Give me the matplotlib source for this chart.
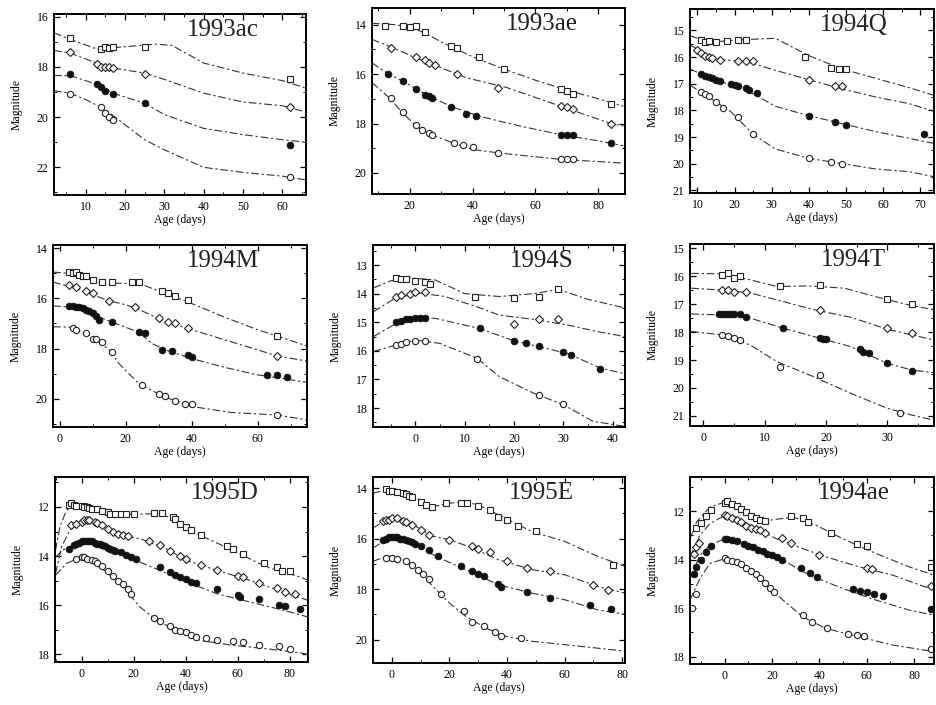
import matplotlib
matplotlib.use("Agg")
import matplotlib.pyplot as plt
from matplotlib.ticker import AutoMinorLocator

plt.rcParams["font.family"] = ["Liberation Serif", "DejaVu Serif"]

# ---------------- 1993ac ----------------
sn93ac_fit_sq = [(2, 16.65), (6, 16.9), (13, 17.3), (20, 17.2), (28, 17.1), (32, 17.15), (40, 17.85), (50, 18.25), (60, 18.55), (66, 18.85)]
sn93ac_fit_di = [(2, 17.35), (6, 17.45), (12, 17.8), (17, 18.05), (25, 18.25), (30, 18.5), (40, 19.05), (50, 19.4), (60, 19.55), (66, 19.8)]
sn93ac_fit_fc = [(2, 18.35), (6, 18.35), (13, 18.7), (17, 19.05), (25, 19.45), (30, 19.9), (40, 20.45), (50, 20.7), (60, 20.9), (66, 21.0)]
sn93ac_fit_oc = [(2, 18.95), (6, 19.05), (10, 19.3), (15, 19.7), (20, 20.3), (25, 20.9), (30, 21.3), (40, 22.0), (50, 22.2), (60, 22.35), (66, 22.5)]
sn93ac_pts_sq = [(6, 16.85), (14, 17.3), (15, 17.2), (16, 17.25), (17, 17.2), (25, 17.2), (62, 18.5)]
sn93ac_pts_di = [(6, 17.4), (13, 17.9), (14, 18.0), (15, 18.0), (16, 18.0), (17, 18.05), (25, 18.3), (62, 19.6)]
sn93ac_pts_fc = [(6, 18.3), (13, 18.7), (14, 18.8), (15, 18.95), (17, 19.1), (25, 19.45), (62, 21.1)]
sn93ac_pts_oc = [(6, 19.1), (14, 19.6), (15, 19.85), (16, 20.0), (17, 20.1), (62, 22.4)]

# ---------------- 1993ae ----------------
sn93ae_fit_sq = [(8, 13.95), (15, 14.0), (20, 14.1), (25, 14.35), (30, 14.7), (35, 15.0), (40, 15.3), (50, 15.8), (60, 16.25), (70, 16.65), (80, 17.0), (88, 17.3)]
sn93ae_fit_di = [(8, 14.6), (15, 14.95), (21, 15.3), (27, 15.6), (38, 16.15), (51, 16.55), (68, 17.3), (84, 18.0), (88, 18.1)]
sn93ae_fit_fc = [(8, 15.55), (13, 15.98), (18, 16.3), (22, 16.6), (27, 16.95), (34, 17.35), (42, 17.7), (55, 18.1), (68, 18.45), (80, 18.7), (88, 18.9)]
sn93ae_fit_oc = [(8, 16.35), (13, 16.9), (18, 17.6), (22, 18.1), (26, 18.4), (34, 18.8), (40, 19.05), (49, 19.2), (68, 19.45), (88, 19.6)]
sn93ae_pts_sq = [(12, 14.05), (18, 14.05), (20, 14.1), (22, 14.05), (25, 14.3), (33, 14.85), (35, 14.95), (42, 15.3), (50, 15.8), (68, 16.6), (70, 16.7), (72, 16.8), (84, 17.2)]
sn93ae_pts_di = [(14, 14.95), (22, 15.3), (25, 15.45), (26, 15.55), (28, 15.65), (35, 16.0), (48, 16.55), (68, 17.3), (70, 17.35), (72, 17.4), (84, 18.0)]
sn93ae_pts_fc = [(13, 16.0), (18, 16.3), (22, 16.6), (25, 16.85), (26, 16.9), (27, 16.95), (33, 17.35), (38, 17.6), (41, 17.7), (68, 18.45), (70, 18.45), (72, 18.45), (84, 18.8)]
sn93ae_pts_oc = [(14, 16.95), (18, 17.55), (22, 18.05), (24, 18.25), (26, 18.4), (27, 18.45), (34, 18.8), (37, 18.85), (40, 18.95), (48, 19.2), (68, 19.45), (70, 19.45), (72, 19.45)]

# ---------------- 1994Q ----------------
sn94Q_fit_sq = [(8, 15.2), (13, 15.45), (22, 15.35), (31, 15.3), (40, 15.95), (49, 16.45), (58, 16.8), (67, 17.15), (74, 17.45)]
sn94Q_fit_di = [(8, 15.55), (13, 15.95), (17, 16.1), (24, 16.2), (31, 16.5), (40, 16.85), (49, 17.2), (58, 17.5), (67, 17.75), (74, 18.05)]
sn94Q_fit_fc = [(8, 16.45), (12, 16.7), (17, 16.95), (24, 17.3), (31, 17.85), (40, 18.2), (49, 18.5), (58, 18.8), (67, 19.05), (74, 19.25)]
sn94Q_fit_oc = [(8, 17.05), (13, 17.5), (19, 18.05), (25, 18.9), (31, 19.45), (40, 19.8), (49, 20.0), (58, 20.2), (67, 20.3), (74, 20.5)]
sn94Q_pts_sq = [(11, 15.35), (12, 15.45), (13, 15.4), (15, 15.45), (18, 15.4), (21, 15.35), (23, 15.35), (39, 16.0), (46, 16.4), (48, 16.45), (50, 16.45)]
sn94Q_pts_di = [(10, 15.75), (11, 15.85), (12, 15.95), (13, 16.0), (14, 16.05), (16, 16.1), (21, 16.15), (23, 16.15), (25, 16.15), (40, 16.85), (47, 17.1), (49, 17.1)]
sn94Q_pts_fc = [(11, 16.65), (12, 16.7), (13, 16.75), (14, 16.8), (15, 16.85), (16, 16.9), (19, 17.0), (20, 17.05), (21, 17.1), (23, 17.15), (24, 17.25), (26, 17.35), (40, 18.2), (47, 18.45), (50, 18.55), (71, 18.9)]
sn94Q_pts_oc = [(11, 17.3), (12, 17.4), (13, 17.45), (15, 17.7), (17, 17.9), (21, 18.25), (25, 18.9), (40, 19.8), (46, 19.95), (49, 20.0)]

# ---------------- 1994M ----------------
sn94M_fit_sq = [(-2, 14.95), (3, 15.0), (8, 15.2), (12, 15.35), (18, 15.4), (24, 15.4), (30, 15.7), (40, 16.2), (50, 16.75), (60, 17.25), (66, 17.5), (75, 17.9)]
sn94M_fit_di = [(-2, 15.35), (5, 15.6), (10, 15.85), (15, 16.1), (20, 16.25), (25, 16.5), (30, 16.8), (40, 17.25), (50, 17.65), (60, 18.05), (66, 18.3), (75, 18.5)]
sn94M_fit_fc = [(-2, 16.3), (4, 16.35), (8, 16.45), (12, 16.75), (16, 16.95), (20, 17.15), (24, 17.35), (28, 17.8), (32, 18.05), (40, 18.4), (50, 18.75), (60, 19.05), (68, 19.2), (75, 19.35)]
sn94M_fit_oc = [(-2, 17.13), (4, 17.15), (10, 17.55), (15, 18.05), (18, 18.6), (24, 19.4), (32, 19.95), (42, 20.35), (52, 20.55), (66, 20.65), (75, 20.85)]
sn94M_pts_sq = [(3, 14.95), (4, 15.0), (5, 14.95), (6, 15.05), (7, 15.1), (8, 15.1), (10, 15.25), (13, 15.35), (16, 15.35), (22, 15.35), (24, 15.35), (31, 15.7), (33, 15.8), (35, 15.9), (39, 16.05), (66, 17.5)]
sn94M_pts_di = [(3, 15.45), (5, 15.55), (8, 15.7), (10, 15.8), (15, 16.1), (23, 16.35), (30, 16.8), (33, 16.95), (35, 17.0), (39, 17.2), (66, 18.3)]
sn94M_pts_fc = [(3, 16.3), (4, 16.3), (5, 16.35), (6, 16.35), (7, 16.4), (8, 16.45), (9, 16.5), (10, 16.6), (11, 16.7), (12, 16.85), (16, 16.95), (24, 17.35), (26, 17.4), (31, 18.05), (34, 18.1), (39, 18.25), (40, 18.35), (63, 19.05), (66, 19.05), (69, 19.15)]
sn94M_pts_oc = [(4, 17.2), (5, 17.25), (8, 17.4), (10, 17.6), (11, 17.6), (13, 17.75), (16, 18.15), (25, 19.45), (30, 19.8), (32, 19.9), (35, 20.1), (38, 20.2), (40, 20.2), (66, 20.65)]

# ---------------- 1994S ----------------
sn94S_fit_sq = [(-8.5, 13.8), (-5, 13.55), (-1, 13.45), (4, 13.52), (10, 14.0), (17, 14.1), (24, 14.0), (29, 13.85), (35, 14.2), (42.5, 14.5)]
sn94S_fit_di = [(-8.5, 14.63), (-4, 14.15), (1, 13.98), (6, 14.1), (12, 14.43), (17, 14.75), (24, 14.9), (31, 15.1), (37, 15.33), (42.5, 15.5)]
sn94S_fit_fc = [(-8.5, 15.5), (-4, 15.05), (0, 14.86), (4, 14.86), (13, 15.22), (20, 15.65), (25, 15.85), (31, 16.1), (37.5, 16.6), (42.5, 16.8)]
sn94S_fit_oc = [(-8.5, 16.02), (-4, 15.8), (0, 15.62), (5, 15.74), (12.5, 16.26), (17, 16.9), (24, 17.48), (30, 17.88), (36, 18.46), (42.5, 18.64)]
sn94S_pts_sq = [(-4, 13.45), (-3, 13.5), (-2, 13.5), (0, 13.55), (2, 13.6), (3, 13.65), (12, 14.1), (20, 14.15), (25, 14.1), (29, 13.85)]
sn94S_pts_di = [(-4, 14.1), (-3, 14.05), (-1, 14.0), (0, 13.95), (2, 13.95), (20, 15.05), (25, 14.9), (29, 14.9)]
sn94S_pts_fc = [(-4, 15.0), (-3, 14.95), (-2, 14.9), (-1, 14.9), (0, 14.85), (1, 14.85), (2, 14.85), (13, 15.2), (20, 15.67), (22.5, 15.72), (25, 15.84), (30, 16.05), (31.5, 16.16), (37.5, 16.62)]
sn94S_pts_oc = [(-4, 15.8), (-3, 15.75), (-2, 15.7), (0, 15.65), (2, 15.65), (12.5, 16.3), (25, 17.55), (30, 17.85)]

# ---------------- 1994T ----------------
sn94T_fit_sq = [(-2, 15.9), (3, 15.92), (7.6, 16.13), (12, 16.37), (17, 16.35), (23, 16.43), (28, 16.73), (33.5, 17.03), (37.5, 17.2)]
sn94T_fit_di = [(-2, 16.43), (3, 16.5), (7.6, 16.6), (12, 16.85), (18, 17.2), (24, 17.47), (30, 17.9), (34, 18.1), (37.5, 18.28)]
sn94T_fit_fc = [(-2, 17.35), (3, 17.39), (7.6, 17.5), (13, 17.86), (18, 18.16), (24, 18.52), (30, 19.12), (34, 19.36), (37.5, 19.45)]
sn94T_fit_oc = [(-2, 17.98), (3, 18.1), (7.6, 18.46), (12, 19.06), (18, 19.6), (24, 20.19), (30, 20.73), (34, 20.97), (37.5, 21.15)]
sn94T_pts_sq = [(3, 15.95), (4, 15.9), (5, 16.05), (6, 16.0), (12.5, 16.35), (19, 16.3), (30, 16.8), (34, 17.0)]
sn94T_pts_di = [(3, 16.5), (4, 16.5), (5, 16.55), (7, 16.55), (19, 17.2), (30, 17.85), (34, 18.05)]
sn94T_pts_fc = [(2.5, 17.35), (3, 17.35), (3.5, 17.35), (4, 17.35), (4.5, 17.35), (5, 17.35), (6, 17.35), (7, 17.45), (13, 17.85), (19, 18.2), (19.5, 18.25), (20, 18.25), (25.5, 18.6), (26, 18.7), (27, 18.75), (30, 19.1), (34, 19.4)]
sn94T_pts_oc = [(3, 18.1), (4, 18.15), (5, 18.2), (6, 18.3), (12.5, 19.25), (19, 19.55), (32, 20.9)]

# ---------------- 1995D ----------------
sn95D_fit_sq = [(-10, 13.76), (-8.3, 12.8), (-5.8, 12.14), (-1.9, 11.86), (1.9, 11.86), (7, 12.07), (12, 12.27), (20, 12.3), (30, 12.27), (36.5, 12.54), (45.5, 13.15), (58, 13.76), (71, 14.44), (84, 14.85), (87, 14.98)]
sn95D_fit_di = [(-10, 14.71), (-7.7, 13.63), (-4.5, 12.95), (-0.6, 12.61), (3.2, 12.54), (8.3, 12.81), (14.7, 13.15), (22.4, 13.29), (32.6, 13.7), (40.3, 14.17), (52, 14.58), (64.7, 14.99), (77.5, 15.46), (87, 15.8)]
sn95D_fit_fc = [(-10, 14.04), (-7, 13.74), (-0.6, 13.42), (3.2, 13.38), (9.6, 13.56), (16, 13.9), (22.4, 14.24), (30, 14.58), (40.3, 15.05), (52, 15.53), (64.7, 15.87), (77.5, 16.2), (87, 16.48)]
sn95D_fit_oc = [(-10, 14.78), (-5.8, 14.3), (-0.6, 14.06), (3.2, 14.17), (9.6, 14.65), (16, 15.26), (22.4, 16.07), (28.8, 16.61), (36.5, 17.02), (45.5, 17.43), (58, 17.63), (71, 17.77), (84, 17.94), (87, 18.0)]
sn95D_pts_sq = [(-5, 11.9), (-4, 11.85), (-3, 11.9), (-2, 11.95), (0, 11.95), (1, 12.0), (2, 12.0), (3, 12.05), (4, 12.1), (6, 12.1), (8, 12.15), (10, 12.2), (11, 12.3), (13, 12.3), (15, 12.3), (17, 12.3), (20, 12.3), (28, 12.25), (31, 12.25), (35, 12.4), (36, 12.5), (38, 12.7), (40, 12.8), (42, 12.95), (46, 13.15), (56, 13.6), (58, 13.7), (62, 13.9), (70, 14.3), (75, 14.45), (77, 14.6), (80, 14.6)]
sn95D_pts_di = [(-4, 12.75), (-2, 12.7), (0, 12.6), (1, 12.55), (2, 12.55), (3, 12.55), (5, 12.6), (6, 12.65), (8, 12.75), (10, 12.9), (12, 13.0), (14, 13.1), (16, 13.15), (18, 13.2), (26, 13.4), (30, 13.55), (34, 13.8), (38, 14.0), (40, 14.1), (46, 14.35), (52, 14.55), (60, 14.8), (62, 14.85), (68, 15.1), (75, 15.3), (78, 15.45), (82, 15.55)]
sn95D_pts_fc = [(-5, 13.7), (-3, 13.55), (-2, 13.5), (-1, 13.45), (0, 13.4), (1, 13.4), (2, 13.4), (3, 13.4), (4, 13.4), (5, 13.45), (6, 13.5), (7, 13.5), (8, 13.55), (9, 13.6), (10, 13.65), (11, 13.7), (12, 13.75), (13, 13.8), (15, 13.85), (17, 13.95), (19, 14.05), (21, 14.1), (30, 14.45), (34, 14.65), (36, 14.75), (38, 14.85), (40, 14.95), (42, 15.05), (44, 15.1), (52, 15.35), (60, 15.6), (61, 15.65), (68, 15.75), (76, 16.0), (78, 16.05), (84, 16.15)]
sn95D_pts_oc = [(-2, 14.1), (0, 14.05), (1, 14.05), (2, 14.1), (4, 14.15), (5, 14.2), (6, 14.3), (8, 14.4), (10, 14.6), (12, 14.8), (14, 15.0), (16, 15.15), (18, 15.35), (19, 15.55), (28, 16.5), (30, 16.65), (34, 16.85), (36, 17.0), (38, 17.05), (40, 17.1), (42, 17.2), (44, 17.3), (48, 17.35), (52, 17.4), (58, 17.45), (62, 17.5), (68, 17.6), (76, 17.65), (80, 17.8)]

# ---------------- 1995E ----------------
sn95E_fit_sq = [(-6.5, 14.2), (-1.7, 14.07), (2.9, 14.13), (8.6, 14.4), (14.3, 14.73), (20, 14.6), (25.7, 14.53), (31.4, 14.73), (37.1, 15.06), (48.6, 15.72), (60, 16.11), (71.4, 16.7), (81, 17.1)]
sn95E_fit_di = [(-6.5, 15.58), (-1.7, 15.25), (2.9, 15.19), (7.4, 15.45), (14.3, 15.91), (20, 16.04), (28, 16.37), (37.1, 16.84), (48.6, 17.23), (60, 17.43), (71.4, 17.89), (81, 18.16)]
sn95E_fit_fc = [(-6.5, 16.37), (-1.7, 16.04), (2.9, 16.04), (8.6, 16.3), (16.6, 16.77), (25.7, 17.23), (37.1, 17.83), (48.6, 18.16), (60, 18.42), (71.4, 18.82), (81, 19.0)]
sn95E_fit_oc = [(-6.5, 16.9), (-1.7, 16.7), (2.9, 16.77), (8.6, 17.23), (14.3, 17.89), (20, 18.55), (25.7, 19.08), (32.6, 19.54), (39.4, 19.87), (48.6, 20.07), (60, 20.2), (81, 20.46)]
sn95E_pts_sq = [(-2, 14.05), (-1, 14.1), (0, 14.1), (2, 14.15), (4, 14.2), (5, 14.25), (6, 14.3), (7, 14.35), (10, 14.55), (12, 14.65), (14, 14.75), (19, 14.6), (24, 14.6), (26, 14.6), (30, 14.7), (34, 14.85), (37, 15.15), (40, 15.25), (44, 15.5), (50, 15.7), (77, 17.05)]
sn95E_pts_di = [(-3, 15.3), (-2, 15.25), (-1, 15.25), (0, 15.2), (2, 15.2), (4, 15.3), (5, 15.35), (7, 15.45), (10, 15.65), (13, 15.85), (20, 16.05), (28, 16.3), (30, 16.4), (34, 16.55), (40, 16.9), (47, 17.15), (55, 17.3), (70, 17.85), (75, 18.05)]
sn95E_pts_fc = [(-3, 16.05), (-2, 16.0), (-1, 15.95), (0, 15.95), (1, 15.95), (2, 15.95), (3, 16.0), (4, 16.0), (5, 16.05), (6, 16.1), (7, 16.15), (8, 16.2), (10, 16.3), (13, 16.45), (16, 16.7), (24, 17.1), (28, 17.3), (30, 17.4), (32, 17.5), (37, 17.8), (38, 17.9), (47, 18.1), (55, 18.35), (69, 18.65), (76, 18.8)]
sn95E_pts_oc = [(-2, 16.75), (0, 16.75), (2, 16.8), (5, 16.9), (7, 17.05), (9, 17.25), (11, 17.4), (13, 17.6), (17, 18.2), (25, 18.85), (28, 19.3), (32, 19.45), (36, 19.7), (38, 19.85), (45, 19.95)]

# ---------------- 1994ae ----------------
sn94ae_fit_sq = [(-14.7, 13.14), (-11.9, 12.45), (-6.3, 11.84), (0, 11.63), (4.9, 11.77), (10.5, 12.18), (18.9, 12.38), (28.8, 12.25), (38.6, 12.59), (49.8, 13.14), (63.9, 13.75), (77.9, 14.3), (88.4, 14.64)]
sn94ae_fit_di = [(-14.7, 13.89), (-10.5, 13.0), (-6.3, 12.52), (0, 12.18), (4.9, 12.25), (11.9, 12.66), (21.8, 13.14), (33, 13.55), (42.8, 13.89), (56.8, 14.3), (70.9, 14.64), (88.4, 15.26)]
sn94ae_fit_fc = [(-14.7, 14.78), (-10.5, 13.82), (-6.3, 13.41), (0, 13.14), (4.9, 13.2), (14.7, 13.5), (24.6, 14.03), (35.8, 14.64), (49.8, 15.19), (63.9, 15.67), (77.9, 16.08), (88.4, 16.29)]
sn94ae_fit_oc = [(-14.7, 15.67), (-10.5, 14.78), (-6.3, 14.16), (0, 13.96), (6.3, 14.16), (14.7, 14.78), (24.6, 15.67), (33, 16.36), (42.8, 16.84), (56.8, 17.18), (70.9, 17.52), (88.4, 17.79)]
sn94ae_pts_sq = [(-12, 12.7), (-10, 12.5), (-8, 12.2), (-6, 11.95), (0, 11.65), (1, 11.6), (3, 11.7), (5, 11.8), (7, 11.9), (9, 12.05), (11, 12.2), (13, 12.3), (15, 12.35), (17, 12.4), (28, 12.2), (33, 12.3), (35, 12.45), (45, 12.9), (56, 13.35), (60, 13.45), (87, 14.3)]
sn94ae_pts_di = [(-13, 13.75), (-12, 13.5), (-11, 13.3), (0, 12.15), (1, 12.2), (3, 12.3), (5, 12.35), (7, 12.45), (9, 12.6), (11, 12.7), (13, 12.75), (15, 12.8), (17, 12.9), (24, 13.1), (28, 13.3), (40, 13.8), (60, 14.35), (62, 14.4), (87, 15.1)]
sn94ae_pts_fc = [(-13, 14.6), (-12, 14.3), (-10, 14.0), (-8, 13.7), (-6, 13.45), (0, 13.15), (1, 13.15), (3, 13.2), (5, 13.25), (8, 13.35), (10, 13.45), (12, 13.5), (14, 13.6), (16, 13.65), (18, 13.75), (20, 13.8), (22, 13.9), (24, 14.0), (32, 14.35), (36, 14.55), (39, 14.7), (54, 15.2), (57, 15.3), (60, 15.35), (63, 15.4), (67, 15.5), (87, 16.05)]
sn94ae_pts_oc = [(-14, 16.0), (-12, 15.4), (0, 13.95), (1, 14.0), (3, 14.05), (5, 14.1), (7, 14.2), (9, 14.35), (11, 14.45), (13, 14.6), (15, 14.75), (17, 14.95), (19, 15.15), (21, 15.35), (33, 16.3), (37, 16.55), (43, 16.8), (52, 17.05), (56, 17.1), (59, 17.15), (87, 17.7)]

# name, box in pixels (left, top, right, bottom), xlim, ylim, xticks, yticks, fits, points
panels = [
    ("1993ac", (54, 14, 306, 195), (2, 66), (23.1, 15.9), range(10, 61, 10), [16, 18, 20, 22],
     [sn93ac_fit_sq, sn93ac_fit_di, sn93ac_fit_fc, sn93ac_fit_oc], [sn93ac_pts_sq, sn93ac_pts_di, sn93ac_pts_fc, sn93ac_pts_oc]),
    ("1993ae", (372, 8, 625, 194), (8, 88.5), (20.85, 13.33), [20, 40, 60, 80], [14, 16, 18, 20],
     [sn93ae_fit_sq, sn93ae_fit_di, sn93ae_fit_fc, sn93ae_fit_oc], [sn93ae_pts_sq, sn93ae_pts_di, sn93ae_pts_fc, sn93ae_pts_oc]),
    ("1994Q", (690, 9, 934, 193), (8, 73.7), (21.1, 14.2), range(10, 71, 10), range(15, 22),
     [sn94Q_fit_sq, sn94Q_fit_di, sn94Q_fit_fc, sn94Q_fit_oc], [sn94Q_pts_sq, sn94Q_pts_di, sn94Q_pts_fc, sn94Q_pts_oc]),
    ("1994M", (53, 245, 307, 427), (-2, 75), (21.13, 13.87), [0, 20, 40, 60], [14, 16, 18, 20],
     [sn94M_fit_sq, sn94M_fit_di, sn94M_fit_fc, sn94M_fit_oc], [sn94M_pts_sq, sn94M_pts_di, sn94M_pts_fc, sn94M_pts_oc]),
    ("1994S", (373, 245, 625, 427), (-8.6, 42.5), (18.66, 12.3), [0, 10, 20, 30, 40], range(13, 19),
     [sn94S_fit_sq, sn94S_fit_di, sn94S_fit_fc, sn94S_fit_oc], [sn94S_pts_sq, sn94S_pts_di, sn94S_pts_fc, sn94S_pts_oc]),
    ("1994T", (690, 244, 934, 426), (-2.2, 37.6), (21.36, 14.85), [0, 10, 20, 30], range(15, 22),
     [sn94T_fit_sq, sn94T_fit_di, sn94T_fit_fc, sn94T_fit_oc], [sn94T_pts_sq, sn94T_pts_di, sn94T_pts_fc, sn94T_pts_oc]),
    ("1995D", (55, 477, 308, 662), (-10.2, 87), (18.31, 10.78), [0, 20, 40, 60, 80], [12, 14, 16, 18],
     [sn95D_fit_sq, sn95D_fit_di, sn95D_fit_fc, sn95D_fit_oc], [sn95D_pts_sq, sn95D_pts_di, sn95D_pts_fc, sn95D_pts_oc]),
    ("1995E", (373, 477, 625, 663), (-6.5, 81), (20.93, 13.56), [0, 20, 40, 60, 80], [14, 16, 18, 20],
     [sn95E_fit_sq, sn95E_fit_di, sn95E_fit_fc, sn95E_fit_oc], [sn95E_pts_sq, sn95E_pts_di, sn95E_pts_fc, sn95E_pts_oc]),
    ("1994ae", (690, 477, 934, 664), (-14.7, 88.4), (18.3, 10.6), [0, 20, 40, 60, 80], [12, 14, 16, 18],
     [sn94ae_fit_sq, sn94ae_fit_di, sn94ae_fit_fc, sn94ae_fit_oc], [sn94ae_pts_sq, sn94ae_pts_di, sn94ae_pts_fc, sn94ae_pts_oc]),
]

W, H = 936, 705
markers = [
    dict(marker="s", ms=4.5, mfc="white", mec="#222", mew=0.8),
    dict(marker="D", ms=3.6, mfc="white", mec="#222", mew=0.8),
    dict(marker="o", ms=4.8, mfc="#111", mec="#111", mew=0.6),
    dict(marker="o", ms=4.5, mfc="white", mec="#222", mew=0.8),
]
dash = (0, (7, 2.5, 2, 2.5))

fig = plt.figure(figsize=(W / 100, H / 100), dpi=100)

for name, box, xlim, ylim, xt, yt, fits, pts in panels:
    l, t, r, b = box
    ax = fig.add_axes([l / W, 1 - b / H, (r - l) / W, (b - t) / H])
    for fit in fits:
        ax.plot([p[0] for p in fit], [p[1] for p in fit], ls=dash, lw=0.8, color="#333")
    for p, m in zip(pts, markers):
        ax.plot([q[0] for q in p], [q[1] for q in p], ls="none", **m)
    ax.set_xlim(xlim)
    ax.set_ylim(ylim)
    ax.set_xticks(list(xt))
    ax.set_yticks(list(yt))
    ax.xaxis.set_minor_locator(AutoMinorLocator(2))
    ax.yaxis.set_minor_locator(AutoMinorLocator(2))
    ax.tick_params(which="both", direction="in", top=True, right=True, labelsize=8.5, pad=4)
    ax.tick_params(which="major", length=4, width=0.9)
    ax.tick_params(which="minor", length=2, width=0.7)
    for s in ax.spines.values():
        s.set_linewidth(1.4)
    ax.set_xlabel("Age (days)", fontsize=8.5, labelpad=1)
    ax.set_ylabel("Magnitude", fontsize=8.5, labelpad=10)
    ax.text(0.67, 0.975, name, transform=ax.transAxes, ha="center", va="top", fontsize=18, color="#222")

fig.savefig("out.png", dpi=100)
